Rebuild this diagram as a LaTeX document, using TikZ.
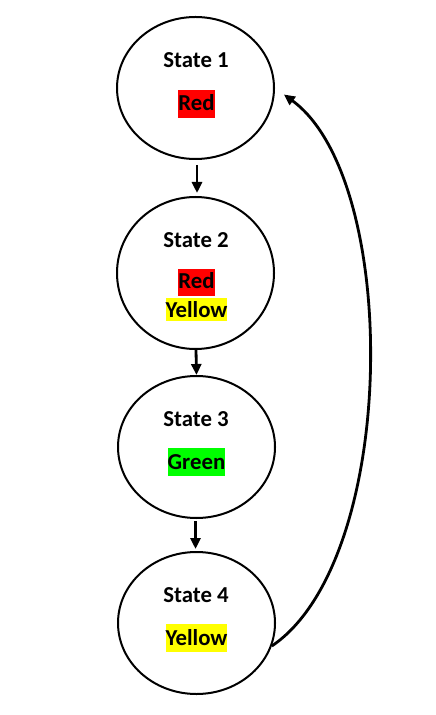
\documentclass[tikz,border=0pt]{standalone}
\usepackage{fontspec}
\setmainfont{Carlito}
\usetikzlibrary{shapes.geometric,arrows.meta}
\definecolor{hlred}{RGB}{255,0,0}
\definecolor{hlyellow}{RGB}{255,255,0}
\definecolor{hlgreen}{RGB}{0,255,0}
\tikzset{
  statebox/.style={draw=black, line width=1pt, ellipse, inner sep=0pt, minimum width=78.5pt},
  title/.style={anchor=base, inner sep=0pt, font=\fontsize{11.4}{13.7}\selectfont\bfseries},
  hl/.style={anchor=base, inner xsep=0pt, inner ysep=0pt, text height=10.5pt, text depth=3.5pt, font=\fontsize{11.4}{13.7}\selectfont\bfseries},
  arr/.style={line width=1.4pt, -{Triangle[length=5.5pt,width=5pt]}},
  backarr/.style={line width=1.4pt, -{Triangle[length=5.5pt,width=5pt]}}
}
\begin{document}
\begin{tikzpicture}[x=0.5pt,y=-0.5pt]
\useasboundingbox (0,0) rectangle (435,715);
% states
\node[statebox, minimum height=71pt] (s1) at (195.5,88) {};
\node[statebox, minimum height=76pt] (s2) at (195.5,273) {};
\node[statebox, minimum height=71pt] (s3) at (196.5,447) {};
\node[statebox, minimum height=71pt] (s4) at (196.5,623) {};
% texts
\node[title] (t1) at (196,68) {State 1};
\node[hl, fill=hlred] (r1) at (196.5,111) {Red};
\node[title] (t2) at (196,248) {State 2};
\node[hl, fill=hlred, text height=10pt] (r2) at (196.5,289) {Red};
\node[hl, fill=hlyellow, text height=10pt, text depth=1.7pt] (y2) at (196.5,318) {Yellow};
\node[title] (t3) at (196,426) {State 3};
\node[hl, fill=hlgreen] (g3) at (196.5,469) {Green};
\node[title] (t4) at (196,602) {State 4};
\node[hl, fill=hlyellow] (y4) at (196.5,645) {Yellow};
% connectors
\draw[arr, shorten <=2.5pt, shorten >=1.5pt] ([xshift=0.75pt]s1.south) -- ([xshift=0.75pt]s2.north);
\draw[arr] ([xshift=0.25pt]s2.south) -- (s3.north);
\draw[arr, shorten <=1pt, shorten >=1pt] ([xshift=-0.5pt]s3.south) -- ([xshift=-0.5pt]s4.north);
\draw[backarr, shorten >=5.5pt] (s4.-17) .. controls +(127,-86) and +(126,92) .. (s1.east);
\end{tikzpicture}
\end{document}
